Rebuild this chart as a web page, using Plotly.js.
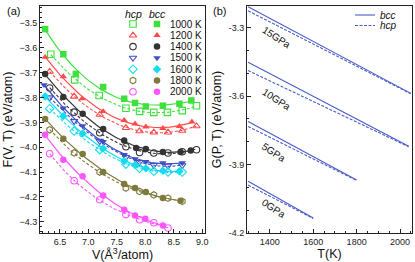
<!DOCTYPE html>
<html><head><meta charset="utf-8">
<script src="https://cdn.plot.ly/plotly-3.0.1.min.js"></script>
<style>html,body{margin:0;padding:0;background:#fff}#c{width:415px;height:262px}</style>
</head><body><div id="c"></div>
<script>
// ---------- Panel (a): F(V,T) ----------
const temps = ["1000 K","1200 K","1400 K","1500 K","1600 K","1800 K","2000 K"];
const V_bcc_1000 = [6.24, 6.56, 6.78, 7.26, 7.63, 7.82, 8.01, 8.31, 8.60, 8.81];
const F_bcc_1000 = [-3.525, -3.626, -3.705, -3.758, -3.805, -3.822, -3.836, -3.833, -3.825, -3.812];
const V_hcp_1000 = [6.34, 6.76, 7.19, 7.66, 7.90, 8.15, 8.39, 8.65, 8.90];
const F_hcp_1000 = [-3.626, -3.729, -3.792, -3.843, -3.856, -3.860, -3.860, -3.853, -3.833];

const V_bcc_1200 = [6.24, 6.56, 6.89, 7.26, 7.63, 7.82, 8.01, 8.31, 8.60, 8.82];
const F_bcc_1200 = [-3.638, -3.716, -3.805, -3.856, -3.892, -3.906, -3.918, -3.924, -3.916, -3.898];
const V_hcp_1200 = [6.32, 6.75, 7.20, 7.66, 7.90, 8.15, 8.40, 8.65, 8.90];
const F_hcp_1200 = [-3.696, -3.796, -3.869, -3.922, -3.935, -3.940, -3.940, -3.933, -3.915];

const V_bcc_1400 = [6.24, 6.56, 6.90, 7.26, 7.63, 7.84, 8.01, 8.31, 8.62, 8.80];
const F_bcc_1400 = [-3.705, -3.798, -3.865, -3.927, -3.973, -4.003, -4.007, -4.019, -4.019, -4.013];
const V_hcp_1400 = [6.32, 6.75, 7.20, 7.66, 7.90, 8.15, 8.40, 8.65, 8.90];
const F_hcp_1400 = [-3.762, -3.859, -3.942, -3.998, -4.021, -4.023, -4.023, -4.018, -4.010];

const V_bcc_1500 = [6.22, 6.56, 6.90, 7.26, 7.63, 7.82, 8.01, 8.31, 8.65];
const F_bcc_1500 = [-3.749, -3.843, -3.914, -3.978, -4.030, -4.047, -4.058, -4.063, -4.063];
const V_hcp_1500 = [6.32, 6.75, 7.20, 7.66, 7.90, 8.15, 8.40, 8.65];
const F_hcp_1500 = [-3.800, -3.895, -3.975, -4.040, -4.060, -4.072, -4.075, -4.073];

const V_bcc_1600 = [6.24, 6.56, 6.90, 7.26, 7.63, 7.82, 8.01, 8.31, 8.60];
const F_bcc_1600 = [-3.796, -3.875, -3.945, -4.005, -4.055, -4.072, -4.085, -4.095, -4.097];
const V_hcp_1600 = [6.32, 6.75, 7.20, 7.66, 7.90, 8.15, 8.40, 8.65];
const F_hcp_1600 = [-3.845, -3.935, -4.010, -4.068, -4.085, -4.097, -4.100, -4.100];

const V_bcc_1800 = [6.24, 6.56, 6.90, 7.26, 7.63, 7.82, 8.01, 8.31, 8.62];
const F_bcc_1800 = [-3.886, -3.966, -4.027, -4.100, -4.148, -4.164, -4.180, -4.204, -4.215];
const V_hcp_1800 = [6.32, 6.75, 7.20, 7.66, 7.90, 8.15, 8.40, 8.65];
const F_hcp_1800 = [-3.930, -4.023, -4.100, -4.164, -4.178, -4.192, -4.205, -4.218];

const V_bcc_2000 = [6.24, 6.56, 6.90, 7.26, 7.63, 7.82, 8.00, 8.31];
const F_bcc_2000 = [-3.950, -4.050, -4.117, -4.194, -4.251, -4.275, -4.288, -4.315];
const V_hcp_2000 = [6.32, 6.75, 7.20, 7.66, 7.90, 8.15, 8.40];
const F_hcp_2000 = [-4.026, -4.135, -4.211, -4.271, -4.292, -4.304, -4.325];

// ---------- Panel (b): G(P,T) ----------
const pressures = ["0GPa","5GPa","10GPa","15GPa"];
const T_0  = [1300, 1600];  const G_bcc_0  = [-3.973, -4.134]; const G_hcp_0  = [-3.990, -4.136];
const T_5  = [1300, 1800];  const G_bcc_5  = [-3.711, -3.968]; const G_hcp_5  = [-3.733, -3.970];
const T_10 = [1300, 2040];  const G_bcc_10 = [-3.452, -3.820]; const G_hcp_10 = [-3.488, -3.822];
const T_15 = [1300, 2050];  const G_bcc_15 = [-3.208, -3.588]; const G_hcp_15 = [-3.226, -3.590];

// ---------- styles ----------
const colors = ["#3ee03e","#ff4a4a","#333333","#3d4fc4","#14dcf0","#7d7a3c","#ff55ff"];
const symH = ["square-open","triangle-up-open","circle-open","triangle-down-open","diamond-open","hexagon-open","circle-open"];
const symB = ["square","triangle-up","circle","triangle-down","diamond","circle","circle"];
const seriesA = [
  [V_bcc_1000,F_bcc_1000,V_hcp_1000,F_hcp_1000],
  [V_bcc_1200,F_bcc_1200,V_hcp_1200,F_hcp_1200],
  [V_bcc_1400,F_bcc_1400,V_hcp_1400,F_hcp_1400],
  [V_bcc_1500,F_bcc_1500,V_hcp_1500,F_hcp_1500],
  [V_bcc_1600,F_bcc_1600,V_hcp_1600,F_hcp_1600],
  [V_bcc_1800,F_bcc_1800,V_hcp_1800,F_hcp_1800],
  [V_bcc_2000,F_bcc_2000,V_hcp_2000,F_hcp_2000]
];
function polyfit(xs, ys, deg){
  const n = deg+1, xm = xs.reduce((a,b)=>a+b,0)/xs.length;
  const A = Array.from({length:n},()=>Array(n+1).fill(0));
  xs.forEach((x,k)=>{const t=x-xm;for(let i=0;i<n;i++){for(let j=0;j<n;j++)A[i][j]+=Math.pow(t,i+j);A[i][n]+=ys[k]*Math.pow(t,i);}});
  for(let i=0;i<n;i++){let p=i;for(let r=i+1;r<n;r++)if(Math.abs(A[r][i])>Math.abs(A[p][i]))p=r;[A[i],A[p]]=[A[p],A[i]];
    for(let r=0;r<n;r++){if(r===i)continue;const f=A[r][i]/A[i][i];for(let c=i;c<=n;c++)A[r][c]-=f*A[i][c];}}
  const co=A.map((row,i)=>row[n]/row[i]);
  return x=>{const t=x-xm;let s=0;for(let i=0;i<n;i++)s+=co[i]*Math.pow(t,i);return s;};
}
function fitLine(xs, ys){
  const f = polyfit(xs, ys, 3), lo = Math.min(...xs), hi = Math.max(...xs), N=40;
  const X=[],Y=[]; for(let i=0;i<=N;i++){const x=lo+(hi-lo)*i/N;X.push(x);Y.push(f(x));}
  return [X,Y];
}
const traces = [];
seriesA.forEach((s,i)=>{
  const [vb,fb,vh,fh] = s;
  const lb = fitLine(vb,fb), lh = fitLine(vh,fh);
  traces.push({x:lh[0],y:lh[1],mode:"lines",line:{color:colors[i],width:1.1,dash:"3px,2px"},xaxis:"x",yaxis:"y",hoverinfo:"skip"});
  traces.push({x:lb[0],y:lb[1],mode:"lines",line:{color:colors[i],width:1.2},xaxis:"x",yaxis:"y",hoverinfo:"skip"});
  traces.push({x:vh,y:fh,mode:"markers",marker:{symbol:symH[i],size:6.5,color:colors[i],line:{width:1.1,color:colors[i]}},xaxis:"x",yaxis:"y"});
  traces.push({x:vb,y:fb,mode:"markers",marker:{symbol:symB[i],size:6.5,color:colors[i],line:{width:0}},xaxis:"x",yaxis:"y"});
});
const blue = "#4a5cc8";
const seriesB = [[T_0,G_bcc_0,G_hcp_0],[T_5,G_bcc_5,G_hcp_5],[T_10,G_bcc_10,G_hcp_10],[T_15,G_bcc_15,G_hcp_15]];
seriesB.forEach(s=>{
  traces.push({x:s[0],y:s[1],mode:"lines",line:{color:blue,width:1.1},xaxis:"x2",yaxis:"y2"});
  traces.push({x:s[0],y:s[2],mode:"lines",line:{color:blue,width:1.1,dash:"3px,1.5px"},xaxis:"x2",yaxis:"y2"});
});

// ---------- hand-made legends on a pixel overlay axis ----------
const legRowY = [24, 35.3, 46.6, 57.9, 69.2, 80.5, 91.8];
const annotations = [];
temps.forEach((t,i)=>{
  traces.push({x:[133],y:[legRowY[i]],mode:"markers",marker:{symbol:symH[i],size:6.5,color:colors[i],line:{width:1.1,color:colors[i]}},xaxis:"x3",yaxis:"y3",cliponaxis:false});
  traces.push({x:[157],y:[legRowY[i]],mode:"markers",marker:{symbol:symB[i],size:6.5,color:colors[i],line:{width:0}},xaxis:"x3",yaxis:"y3",cliponaxis:false});
  annotations.push({xref:"x3",yref:"y3",x:168,y:legRowY[i],text:t,showarrow:false,xanchor:"left",yanchor:"middle",font:{size:10,color:"#111"}});
});
annotations.push({xref:"x3",yref:"y3",x:133,y:13.5,text:"hcp",showarrow:false,font:{size:10.5,style:"italic",color:"#111"}});
annotations.push({xref:"x3",yref:"y3",x:157,y:13.5,text:"bcc",showarrow:false,font:{size:10.5,style:"italic",color:"#111"}});
traces.push({x:[355,375],y:[15,15],mode:"lines",line:{color:blue,width:1.1},xaxis:"x3",yaxis:"y3",cliponaxis:false});
traces.push({x:[355,375],y:[25.5,25.5],mode:"lines",line:{color:blue,width:1.1,dash:"3px,1.5px"},xaxis:"x3",yaxis:"y3",cliponaxis:false});
annotations.push({xref:"x3",yref:"y3",x:378,y:15,text:"bcc",showarrow:false,xanchor:"left",font:{size:10,style:"italic",color:"#111"}});
annotations.push({xref:"x3",yref:"y3",x:378,y:25.5,text:"hcp",showarrow:false,xanchor:"left",font:{size:10,style:"italic",color:"#111"}});
// pressure labels
const pLabelPos = [[274,208],[274,152],[277,99],[277,37]];
pressures.forEach((p,i)=>annotations.push({xref:"x3",yref:"y3",x:pLabelPos[i][0],y:pLabelPos[i][1],text:p,showarrow:false,textangle:33,font:{size:10,color:"#111"}}));
annotations.push({xref:"x3",yref:"y3",x:13,y:11,text:"(a)",showarrow:false,font:{size:11,color:"#111"}});
annotations.push({xref:"x3",yref:"y3",x:219,y:11,text:"(b)",showarrow:false,font:{size:11,color:"#111"}});

const tickF = {size:9,color:"#222",family:"Liberation Sans, Arial, sans-serif"};
const titleF = {size:12.5,color:"#111",family:"Liberation Sans, Arial, sans-serif"};
const ax = {showline:true,linecolor:"#222",linewidth:1,mirror:true,ticks:"inside",ticklen:4,tickwidth:1,tickcolor:"#222",showgrid:false,zeroline:false,tickfont:tickF};
const layout = {
  width:415,height:262,margin:{l:0,r:0,t:0,b:0},paper_bgcolor:"#fff",plot_bgcolor:"rgba(0,0,0,0)",showlegend:false,
  font:{family:"Liberation Sans, Arial, sans-serif"},
  xaxis:Object.assign({},ax,{domain:[40/415,205/415],range:[6.15,9.05],tickvals:[6.5,7,7.5,8,8.5,9],ticktext:["6.5","7.0","7.5","8.0","8.5","9.0"],
    minor:{dtick:0.1,ticks:"inside",ticklen:2,tickcolor:"#222"},title:{text:"V(Å<sup>3</sup>/atom)",font:titleF,standoff:2},anchor:"y"}),
  yaxis:Object.assign({},ax,{domain:[1-233/262,1-6/262],range:[-4.345,-3.432],dtick:0.1,tickformat:".1f",
    minor:{dtick:0.02,ticks:"inside",ticklen:2,tickcolor:"#222"},title:{text:"F(V, T) (eV/atom)",font:titleF,standoff:4},anchor:"x"}),
  xaxis2:Object.assign({},ax,{domain:[247/415,412/415],range:[1295,2055],tickvals:[1400,1600,1800,2000],
    minor:{dtick:50,ticks:"inside",ticklen:2,tickcolor:"#222"},title:{text:"T(K)",font:titleF,standoff:2},anchor:"y2"}),
  yaxis2:Object.assign({},ax,{domain:[1-233/262,1-6/262],range:[-4.2,-3.205],tickvals:[-4.2,-3.9,-3.6,-3.3],ticktext:["-4.2","-3.9","-3.6","-3.3"],
    minor:{dtick:0.1,ticks:"inside",ticklen:2,tickcolor:"#222"},title:{text:"G(P, T) (eV/atom)",font:titleF,standoff:4},anchor:"x2"}),
  xaxis3:{domain:[0,1],range:[0,415],visible:false,fixedrange:true,anchor:"y3"},
  yaxis3:{domain:[0,1],range:[262,0],visible:false,fixedrange:true,anchor:"x3"},
  annotations:annotations
};
Plotly.newPlot("c",traces,layout,{staticPlot:true,displayModeBar:false});
</script></body></html>
